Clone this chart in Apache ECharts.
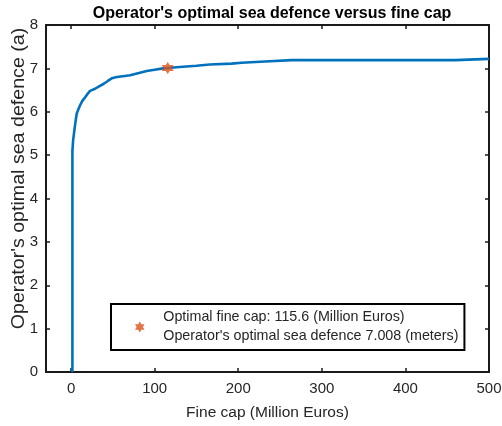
<!DOCTYPE html>
<html><head><meta charset="utf-8">
<script src="https://cdn.jsdelivr.net/npm/echarts@6/dist/echarts.min.js"></script>
<style>html,body{margin:0;padding:0;background:#fff}#c{width:502px;height:426px}</style>
</head><body><div id="c"></div>
<script>
const fineCap = [1.6, 1.6, 2.5, 4, 5.5, 6.8, 9, 10.8, 13.5, 16.7, 20, 22.7, 28.7, 33, 38.6, 44, 48.7, 54.7, 62, 70.6, 80, 90.5, 100, 110, 115.6, 130, 150, 166, 192, 204, 232, 264, 300, 350, 400, 460, 462, 500];
const seaDefence = [0, 5.1, 5.35, 5.58, 5.8, 5.96, 6.07, 6.15, 6.25, 6.33, 6.42, 6.48, 6.53, 6.58, 6.64, 6.71, 6.77, 6.80, 6.82, 6.84, 6.89, 6.94, 6.97, 7.0, 7.008, 7.03, 7.06, 7.09, 7.11, 7.13, 7.16, 7.19, 7.19, 7.19, 7.19, 7.19, 7.22, 7.22];
const optimalPoint = [115.6, 7.008];
const xTicks = [0, 100, 200, 300, 400, 500];
const yTicks = [0, 1, 2, 3, 4, 5, 6, 7, 8];
const legendText = ["Optimal fine cap: 115.6 (Million Euros)", "Operator's optimal sea defence 7.008 (meters)"];
const yName = "Operator's optimal sea defence (a)";

const font = 'Liberation Sans, Arial, Helvetica, sans-serif';
const star = 'path://M0,-10 L2.9,-5 L8.66,-5 L5.8,0 L8.66,5 L2.9,5 L0,10 L-2.9,5 L-8.66,5 L-5.8,0 L-8.66,-5 L-2.9,-5 Z';
const axisCol = '#1a1a1a';
const lineData = fineCap.map((x, i) => [x, seaDefence[i]]);

function xAx(pos, showLabel) {
  return {
    type: 'value', position: pos, min: -30, max: 500,
    name: showLabel ? 'Fine cap (Million Euros)' : '', nameLocation: 'middle', nameGap: 33,
    nameTextStyle: {fontFamily: font, fontSize: 15.5, color: '#262626'},
    axisLine: {show: true, onZero: false, lineStyle: {color: axisCol, width: 2}},
    axisTick: {show: true, inside: true, length: 4, customValues: xTicks, lineStyle: {color: axisCol, width: 1.5}},
    axisLabel: {show: showLabel, customValues: xTicks, fontFamily: font, fontSize: 15, color: '#262626', margin: 9},
    splitLine: {show: false}
  };
}
function yAx(pos, showLabel) {
  return {
    type: 'value', position: pos, min: 0, max: 8, interval: 1,
    axisLine: {show: true, onZero: false, lineStyle: {color: axisCol, width: 2}},
    axisTick: {show: true, inside: true, length: 4, customValues: yTicks, lineStyle: {color: axisCol, width: 1.5}},
    axisLabel: {show: showLabel, customValues: yTicks, fontFamily: font, fontSize: 15, color: '#262626', margin: 8},
    splitLine: {show: false}
  };
}

const chart = echarts.init(document.getElementById('c'), null, {renderer: 'canvas'});
chart.setOption({
  animation: false,
  backgroundColor: '#fff',
  title: {text: "Operator's optimal sea defence versus fine cap", left: 267, textAlign: 'center', top: 1,
    textStyle: {fontFamily: font, fontSize: 16, fontWeight: 'bold', color: '#000'}},
  grid: {left: 46, right: 13, top: 25, bottom: 54, containLabel: false, outerBoundsMode: 'none'},
  xAxis: [xAx('bottom', true), xAx('top', false)],
  yAxis: [yAx('left', true), yAx('right', false)],
  graphic: [{
    type: 'text', x: 19, y: 178.5, rotation: Math.PI / 2, scaleX: 1.09, scaleY: 1,
    style: {text: yName, fontFamily: font, fontSize: 18, fill: '#262626', align: 'center', verticalAlign: 'middle'}
  }],
  legend: {
    show: true, left: 111, top: 304, orient: 'vertical',
    data: [{name: 'opt', icon: star}],
    itemWidth: 11, itemHeight: 11,
    padding: [4, 6, 4, 24],
    borderColor: '#000', borderWidth: 2, backgroundColor: '#fff',
    formatter: () => legendText.join('\n'),
    textStyle: {fontFamily: font, fontSize: 14.3, color: '#262626', lineHeight: 19, padding: [0, 0, 0, 13]}
  },
  series: [
    {type: 'line', name: 'curve', data: lineData, showSymbol: false, symbol: 'none',
      lineStyle: {color: '#0072BD', width: 2.6}, clip: true, z: 2},
    {type: 'scatter', name: 'opt', data: [optimalPoint], symbol: star, symbolSize: 12,
      itemStyle: {color: '#D95319'}, z: 3}
  ]
});
</script></body></html>
